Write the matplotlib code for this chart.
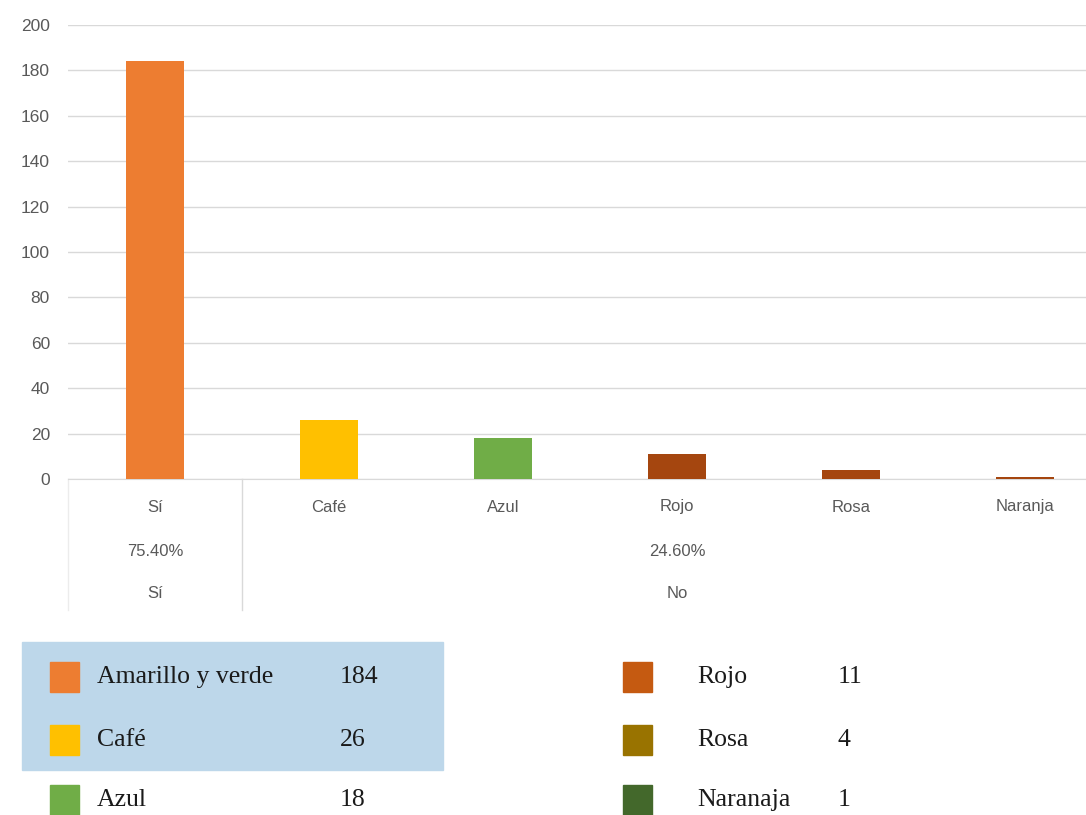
import matplotlib.pyplot as plt
from matplotlib.patches import Rectangle

# data
categories = ['Sí', 'Café', 'Azul', 'Rojo', 'Rosa', 'Naranja']
values = [184, 26, 18, 11, 4, 1]
bar_colors = ['#ED7D31', '#FFC000', '#70AD47', '#A5460F', '#A5460F', '#A5460F']

groups = ['Sí', 'No']
group_pcts = ['75.40%', '24.60%']
group_spans = [(0, 0), (1, 5)]

legend_names = ['Amarillo y verde', 'Café', 'Azul', 'Rojo', 'Rosa', 'Naranaja']
legend_colors = ['#ED7D31', '#FFC000', '#70AD47', '#C55A11', '#997300', '#43682B']

W, H = 1086, 815
fig = plt.figure(figsize=(W / 100, H / 100), dpi=100)

def fx(px):
    return px / W

def fy(py):
    return 1 - py / H

tick_font = ['Liberation Sans Narrow', 'Liberation Sans', 'DejaVu Sans']
grey = '#595959'

# plot area: y=0 at 479px, y=200 at 25px; category step 174px starting at 68px
ax = fig.add_axes([fx(68), fy(479), fx(174 * 6), (479 - 25) / H])
x = list(range(len(categories)))
ax.bar(x, values, width=0.33, color=bar_colors, zorder=3)
ax.set_xlim(-0.5, len(categories) - 0.5)
ax.set_ylim(0, 200)
ax.set_yticks(range(0, 201, 20))
ax.yaxis.grid(True, color='#D9D9D9', linewidth=1)
ax.set_axisbelow(True)
for s in ['top', 'right', 'left']:
    ax.spines[s].set_visible(False)
ax.spines['bottom'].set_color('#D9D9D9')
ax.tick_params(axis='y', length=0, pad=13, labelsize=12.5, labelcolor=grey)
ax.tick_params(axis='x', length=0, labelbottom=False)
for lab in ax.get_yticklabels():
    lab.set_fontfamily(tick_font)

# multi-level category axis
tr = ax.get_xaxis_transform()
row_y = [-(507 - 479) / 454, -(551 - 479) / 454, -(593 - 479) / 454]
line_bottom = -(610 - 479) / 454
for i, c in enumerate(categories):
    ax.text(i, row_y[0], c, transform=tr, ha='center', va='center',
            fontsize=12, color=grey, family=tick_font)
for (a, b), g, p in zip(group_spans, groups, group_pcts):
    mid = (a + b) / 2
    ax.text(mid, row_y[1], p, transform=tr, ha='center', va='center',
            fontsize=12, color=grey, family=tick_font)
    ax.text(mid, row_y[2], g, transform=tr, ha='center', va='center',
            fontsize=12, color=grey, family=tick_font)
for xs, c in [(-0.5, '#ECECEC'), (0.5, '#D9D9D9')]:
    ax.plot([xs, xs], [0, line_bottom], transform=tr, color=c,
            linewidth=1, clip_on=False)

# value table below the chart
fig.patches.append(Rectangle((fx(22), fy(770)), fx(443 - 22), (770 - 642) / H,
                             transform=fig.transFigure, color='#BDD7EA', zorder=0))
row_py = [677, 740, 800]
cols = [(50, 97, 340), (623, 697, 838)]
for k, (name, v, col) in enumerate(zip(legend_names, values, legend_colors)):
    sq_x, name_x, val_x = cols[k // 3]
    py = row_py[k % 3]
    fig.patches.append(Rectangle((fx(sq_x), fy(py + 15)), fx(29), 30 / H,
                                 transform=fig.transFigure, color=col, zorder=1))
    fig.text(fx(name_x), fy(py), name, ha='left', va='center', fontsize=18.5,
             family='Liberation Serif', color='#1a1a1a')
    fig.text(fx(val_x), fy(py), str(v), ha='left', va='center', fontsize=18.5,
             family='Liberation Serif', color='#1a1a1a')

fig.savefig('out.png', dpi=100)
